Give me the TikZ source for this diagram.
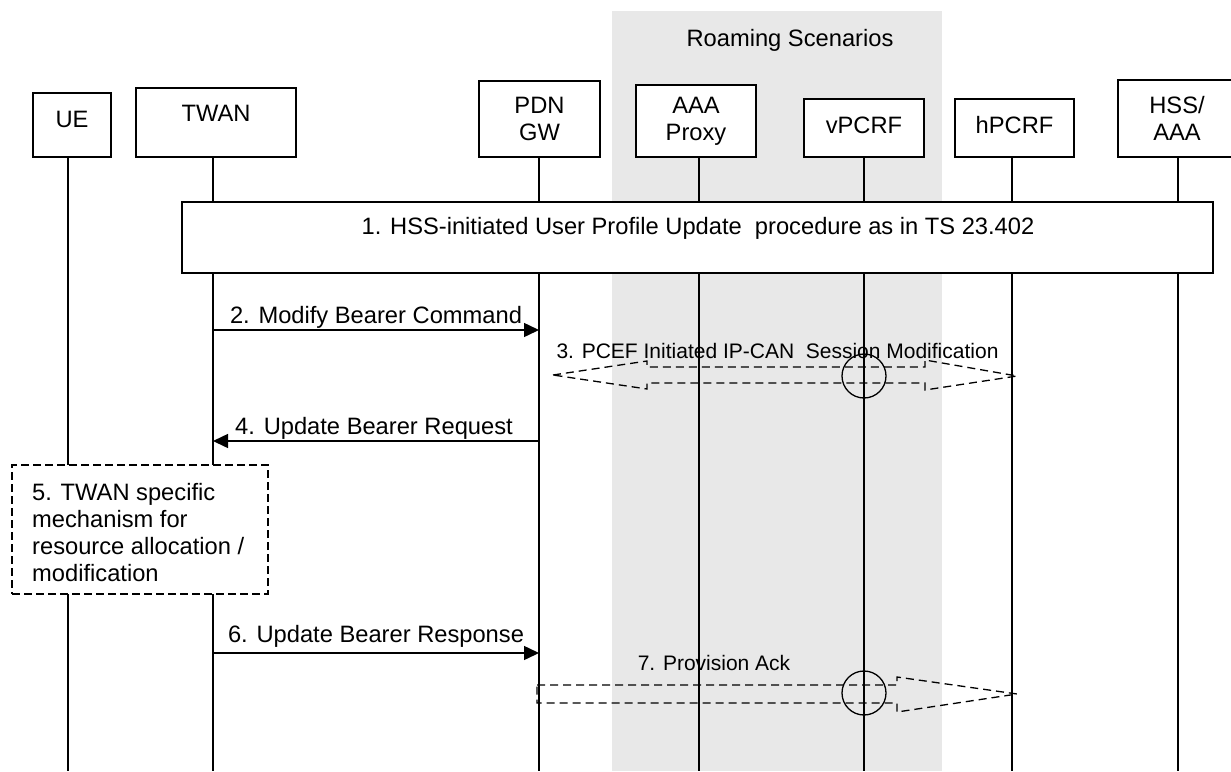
\documentclass[tikz,border=0pt]{standalone}
\usepackage{fontspec}
\setmainfont{Liberation Sans}
\usetikzlibrary{arrows.meta}
\definecolor{roamgray}{RGB}{232,232,232}
\begin{document}
\begin{tikzpicture}[x=1pt,y=-1pt,
  ent/.style={draw,line width=1.3pt,fill=white,inner sep=0pt},
  lbl/.style={inner sep=0pt,font=\fontsize{23.7}{27}\selectfont,align=center},
  slbl/.style={inner sep=0pt,font=\fontsize{21}{24}\selectfont},
  life/.style={line width=1.3pt},
  msg/.style={line width=1.5pt,-{Triangle[length=15pt,width=14pt]}},
  fat/.style={line width=1.3pt,dash pattern=on 8pt off 5pt},
]
\useasboundingbox (0,0) rectangle (1231,771);
% roaming region
\node[fill=roamgray,inner sep=0pt,minimum width=330pt,minimum height=760pt,anchor=north west] (roam) at (612,11) {};
\node[lbl,anchor=base] (roamtxt) at (790,46.5) {Roaming Scenarios};

% lifeline anchors
\coordinate (ueL) at (68,157);
\coordinate (twanL) at (213,157);
\coordinate (pdnL) at (539,157);
\coordinate (aaaL) at (699,157);
\coordinate (vpL) at (864,157);
\coordinate (hpL) at (1012,157);
\coordinate (hssL) at (1178,157);
\foreach \l in {ueL,twanL,pdnL,aaaL,vpL,hpL,hssL}
  \draw[life] (\l) -- (\l |- 0,771);

% entity boxes
\node[ent,minimum width=78pt,minimum height=64pt] (ue) at (72,125) {};
\node[lbl,anchor=base] (uet) at (72,127) {UE};
\node[ent,minimum width=160pt,minimum height=69pt] (twan) at (216,122.5) {};
\node[lbl,anchor=base] (twant) at (216,121) {TWAN};
\node[ent,minimum width=121pt,minimum height=76pt] (pdn) at (539.5,119) {};
\node[lbl] (pdnt) at (539.5,119) {PDN\\GW};
\node[ent,minimum width=120pt,minimum height=72pt] (aaa) at (696,121) {};
\node[lbl] (aaat) at (696,121) {AAA\\Proxy};
\node[ent,minimum width=120pt,minimum height=58pt] (vp) at (864,128) {};
\node[lbl,anchor=base] (vpt) at (864,133) {vPCRF};
\node[ent,minimum width=119pt,minimum height=58pt] (hp) at (1014.5,128) {};
\node[lbl,anchor=base] (hpt) at (1014.5,133) {hPCRF};
\node[ent,minimum width=122pt,minimum height=77pt] (hss) at (1179,118.5) {};
\node[lbl] (hsst) at (1177,118.5) {HSS/\\AAA};

% step 1
\node[draw,line width=2pt,fill=white,inner sep=0pt,minimum width=1031pt,minimum height=71pt] (b1) at (697.5,237.5) {};
\node[lbl,anchor=base] (b1t) at (698,234) {1. HSS-initiated User Profile Update\ \ procedure as in TS 23.402};

% step 2
\draw[msg] (twanL |- 0,330) -- (pdnL |- 0,330);
\node[lbl,anchor=base] (m2) at (376,323) {2. Modify Bearer Command};

% step 3
\node[slbl,anchor=base] (m3) at (777.5,358) {3. PCEF Initiated IP-CAN\ \ Session Modification};
\draw[fat] (553,375) -- (647,361) -- (647,367) -- (925,367) -- (925,360) -- (1017,376)
  -- (925,390) -- (925,383) -- (647,383) -- (647,389) -- cycle;
\node[circle,draw,line width=1.3pt,minimum size=44pt,inner sep=0pt] (c3) at (864,376) {};

% step 4
\draw[msg] (pdnL |- 0,441) -- (twanL |- 0,441);
\node[lbl,anchor=base] (m4) at (374,434) {4. Update Bearer Request};

% step 5
\node[draw,line width=1.3pt,dash pattern=on 8pt off 4pt,fill=white,inner sep=0pt,minimum width=256pt,minimum height=129pt] (b5) at (140,529.5) {};
\node[lbl,align=left,anchor=west] (b5t) at (32,533) {5. TWAN specific\\mechanism for\\resource allocation /\\modification};

% step 6
\draw[msg] (twanL |- 0,653) -- (pdnL |- 0,653);
\node[lbl,anchor=base] (m6) at (376,642) {6. Update Bearer Response};

% step 7
\node[slbl,anchor=base] (m7) at (714,670) {7. Provision Ack};
\draw[fat] (537,685) -- (897,685) -- (897,677) -- (1017,694) -- (897,712) -- (897,703) -- (537,703) -- cycle;
\node[circle,draw,line width=1.3pt,minimum size=44pt,inner sep=0pt] (c7) at (864,693) {};
\end{tikzpicture}
\end{document}
